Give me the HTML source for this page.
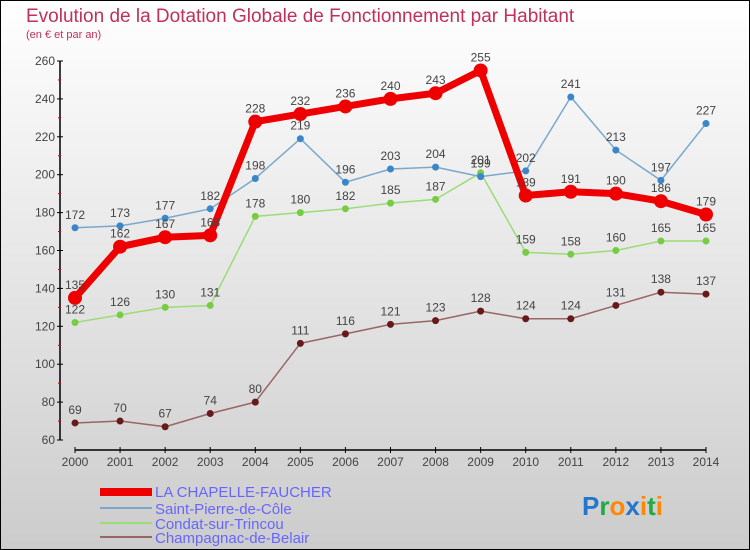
<!DOCTYPE html>
<html><head><meta charset="utf-8"><style>
body{margin:0;width:750px;height:550px;overflow:hidden;font-family:"Liberation Sans",sans-serif}
svg{display:block}
</style></head><body>
<svg id="c" width="750" height="550" xmlns="http://www.w3.org/2000/svg">
<defs><linearGradient id="bg" x1="0" y1="0" x2="0" y2="1"><stop offset="0" stop-color="#ffffff"/><stop offset="1" stop-color="#cccccc"/></linearGradient></defs>
<rect x="0.5" y="0.5" width="749" height="549" fill="url(#bg)" stroke="#000"/>
<text x="26" y="22" font-size="19" fill="#c0305a">Evolution de la Dotation Globale de Fonctionnement par Habitant</text>
<text x="26" y="38" font-size="11" fill="#c0305a">(en € et par an)</text>
<g id="plot"></g>
<g>
<rect x="100" y="488" width="52" height="8" fill="#ee0000"/>
<text x="155" y="497" font-size="15" fill="#6666ff">LA CHAPELLE-FAUCHER</text>
<rect x="100" y="507" width="52" height="2" fill="#7aa8cc"/>
<text x="155" y="514" font-size="15" fill="#6666ff">Saint-Pierre-de-Côle</text>
<rect x="100" y="522" width="52" height="2" fill="#99dd77"/>
<text x="155" y="529" font-size="15" fill="#6666ff">Condat-sur-Trincou</text>
<rect x="100" y="536" width="52" height="2" fill="#996666"/>
<text x="155" y="543" font-size="15" fill="#6666ff">Champagnac-de-Belair</text>
</g>
<g font-size="26" font-weight="bold">
<text x="582" y="515"><tspan fill="#2277cc">P</tspan><tspan fill="#22aa44">r</tspan><tspan fill="#ff8800">o</tspan><tspan fill="#2277cc">x</tspan><tspan fill="#ff8800">i</tspan><tspan fill="#22aa44">t</tspan><tspan fill="#ff8800">i</tspan></text>
</g>
</svg>
<script>
const years=["2000","2001","2002","2003","2004","2005","2006","2007","2008","2009","2010","2011","2012","2013","2014"];
const yTicks=[60,80,100,120,140,160,180,200,220,240,260];
const lcf=[135,162,167,168,228,232,236,240,243,255,189,191,190,186,179];
const spc=[172,173,177,182,198,219,196,203,204,199,202,241,213,197,227];
const cst=[122,126,130,131,178,180,182,185,187,201,159,158,160,165,165];
const cdb=[69,70,67,74,80,111,116,121,123,128,124,124,131,138,137];
const NS="http://www.w3.org/2000/svg";
const g=document.getElementById('plot');
const X=i=>75+i*(706-75)/(years.length-1);
const Y=v=>440-(v-60)*(440-61)/200;
function mk(t,a,p){const e=document.createElementNS(NS,t);for(const k in a)e.setAttribute(k,a[k]);(p||g).appendChild(e);return e;}
let ax=mk('line',{x1:60,y1:61,x2:60,y2:440,stroke:'#000','stroke-width':1.5});


let bx=mk('line',{x1:75,y1:450,x2:706,y2:450,stroke:'#000','stroke-width':1.5});


yTicks.forEach((v,i)=>{
 mk('line',{x1:57,y1:Y(v),x2:63,y2:Y(v),stroke:'#000'});
 if(i<yTicks.length-1) mk('line',{x1:58,y1:Y(v+10),x2:61,y2:Y(v+10),stroke:'#d00'});
 const t=mk('text',{x:55,y:Y(v)+4,'text-anchor':'end','font-size':12,fill:'#444'});
 t.textContent=v;
 
 
});
years.forEach((y,i)=>{
 mk('line',{x1:X(i),y1:447,x2:X(i),y2:453,stroke:'#000'});
 const t=mk('text',{x:X(i),y:466,'text-anchor':'middle','font-size':12,fill:'#444'});
 t.textContent=y;
 
 
});
function series(data,name,color,dot,w,r){
 const s=mk('g',{});
 
 
 const pl=mk('polyline',{points:data.map((v,i)=>X(i)+','+Y(v)).join(' '),fill:'none',stroke:color,'stroke-width':w,'stroke-linejoin':'round'},s);
 
 
 data.forEach((v,i)=>{
  const c=mk('circle',{cx:X(i),cy:Y(v),r:r,fill:dot},s);
  
  
  const t=mk('text',{x:X(i),y:Y(v)-9,'text-anchor':'middle','font-size':12,fill:'#444'},s);
  t.textContent=v;
  
  
 });
}
series(cdb,'champagnac','#996666','#661a1a',1.5,3.5);
series(cst,'condat','#99dd77','#77cc44',1.5,3.5);
series(spc,'saint-pierre','#7aa8cc','#3a86c8',1.5,3.5);
series(lcf,'la-chapelle-faucher','#ee0000','#ee0000',7,7);
</script>
</body></html>
